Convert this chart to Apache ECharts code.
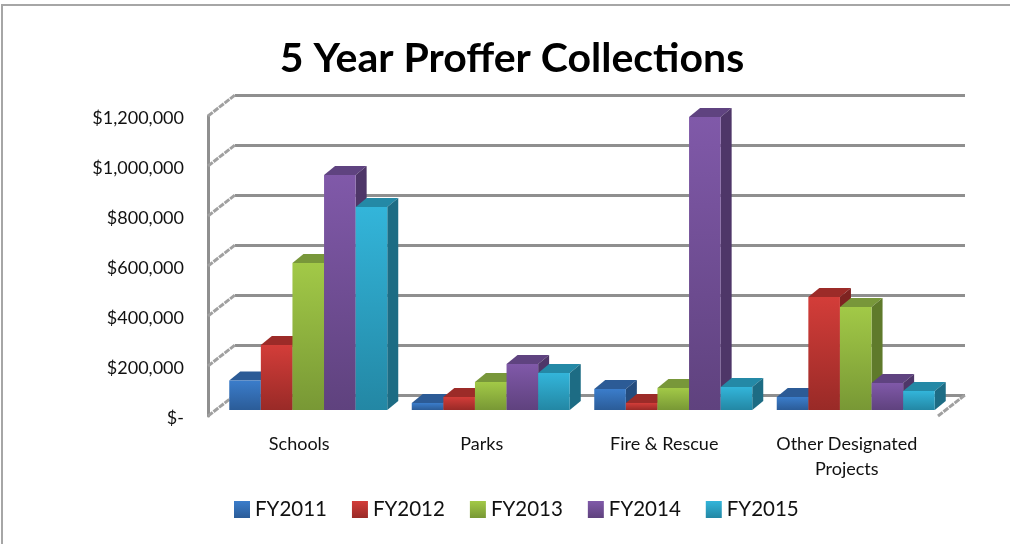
<!DOCTYPE html>
<html>
<head>
<meta charset="utf-8">
<style>
  html, body { margin: 0; padding: 0; background: #fff; }
  #chart { width: 1010px; height: 544px; }
</style>
<script src="https://cdn.jsdelivr.net/npm/echarts@6/dist/echarts.min.js"></script>
</head>
<body>
<div id="chart"></div>
<script>
const categories = ['Schools', 'Parks', 'Fire & Rescue', 'Other Designated\nProjects'];
const seriesNames = ['FY2011', 'FY2012', 'FY2013', 'FY2014', 'FY2015'];
const fy2011 = [118000, 28000, 84000, 52000];
const fy2012 = [260000, 52000, 28000, 452000];
const fy2013 = [588000, 112000, 88000, 412000];
const fy2014 = [940000, 184000, 1172000, 108000];
const fy2015 = [812000, 148000, 92000, 76000];
const seriesValues = [fy2011, fy2012, fy2013, fy2014, fy2015];
const tickValues = [0, 200000, 400000, 600000, 800000, 1000000, 1200000];

// front, top and side colours of each bar
const palette = [
  { hi: '#3b7dcb', lo: '#2b5c98', top: '#2c5b96', side: '#244c7e' },
  { hi: '#d33d39', lo: '#992a27', top: '#9c2b28', side: '#7e2321' },
  { hi: '#a2c947', lo: '#789835', top: '#78973a', side: '#5f7a2b' },
  { hi: '#8059a9', lo: '#5f427e', top: '#5f4380', side: '#4e3668' },
  { hi: '#33b5da', lo: '#2387a4', top: '#2489a6', side: '#1d6c84' }
];

const fontName = 'Lato';
const gridColor = '#8f8f8f';
const barShare = 31.6 / 182.5; // bar width / category band
const barDepth = [11, -9];
const wallDepth = [27, -21];

function gradient(c) {
  return new echarts.graphic.LinearGradient(0, 0, 0, 1, [
    { offset: 0, color: c.hi },
    { offset: 1, color: c.lo }
  ]);
}

function bar3d(idx) {
  return function (params, api) {
    const c = palette[idx];
    const center = api.coord([api.value(0), 0])[0];
    const w = api.size([1, 0])[0] * barShare;
    const x0 = center - 2.5 * w + idx * w;
    const x1 = x0 + w;
    const yTop = api.coord([api.value(0), api.value(1)])[1];
    const yBase = api.coord([api.value(0), 0])[1];
    const dx = barDepth[0], dy = barDepth[1];
    return {
      type: 'group',
      children: [
        { type: 'polygon', shape: { points: [[x0, yTop], [x1, yTop], [x1 + dx, yTop + dy], [x0 + dx, yTop + dy]] },
          style: { fill: c.top } },
        { type: 'polygon', shape: { points: [[x1, yTop], [x1 + dx, yTop + dy], [x1 + dx, yBase + dy], [x1, yBase]] },
          style: { fill: c.side } },
        { type: 'rect', shape: { x: x0, y: yTop, width: w, height: yBase - yTop },
          style: { fill: gradient(c) } }
      ]
    };
  };
}

function wallLine(side) {
  return function (params, api) {
    const sys = params.coordSys;
    const x = side === 'right' ? sys.x + sys.width : sys.x;
    const y = api.coord([0, api.value(1)])[1];
    return {
      type: 'line',
      shape: { x1: x, y1: y, x2: x + wallDepth[0], y2: y + wallDepth[1] },
      style: { stroke: '#a0a0a0', lineWidth: 3, lineDash: [6, 1] }
    };
  };
}

const barSeries = seriesNames.map((name, idx) => ({
  name: name,
  type: 'custom',
  xAxisIndex: 2,
  yAxisIndex: 2,
  z: 5,
  clip: false,
  encode: { x: 0, y: 1 },
  itemStyle: { color: gradient(palette[idx]) },
  renderItem: bar3d(idx),
  data: seriesValues[idx].map((v, i) => [i, v])
}));

const chart = echarts.init(document.getElementById('chart'));
chart.setOption({
  animation: false,
  backgroundColor: '#fff',
  textStyle: { fontFamily: fontName },
  title: {
    text: '5 Year Proffer Collections',
    left: 507, top: 33, textAlign: 'center',
    textStyle: { fontFamily: fontName, fontSize: 41, fontWeight: 'bold', color: '#000' }
  },
  legend: {
    data: seriesNames,
    left: 229, top: 494,
    icon: 'rect',
    itemWidth: 16, itemHeight: 17, itemGap: 25,
    textStyle: { fontFamily: fontName, fontSize: 20.5, color: '#111' }
  },
  graphic: [
    { type: 'line', shape: { x1: 1, y1: 5, x2: 1010, y2: 5 }, style: { stroke: '#a6a6a6', lineWidth: 2 } },
    { type: 'line', shape: { x1: 2, y1: 5, x2: 2, y2: 544 }, style: { stroke: '#a6a6a6', lineWidth: 2 } }
  ],
  grid: [
    { left: 235, top: 95, width: 730, height: 300 },   // back wall
    { left: 208, top: 116, width: 730, height: 300 },  // front edge, carries the labels
    { left: 217, top: 110, width: 730, height: 300 }   // plane of the bar fronts
  ],
  xAxis: [
    { gridIndex: 0, type: 'category', data: categories, show: false },
    { gridIndex: 1, type: 'category', data: categories,
      axisLine: { show: false }, axisTick: { show: false },
      axisLabel: { fontFamily: fontName, fontSize: 18, color: '#111', margin: 16, lineHeight: 25, interval: 0 } },
    { gridIndex: 2, type: 'category', data: categories, show: false }
  ],
  yAxis: [
    { gridIndex: 0, type: 'value', min: 0, max: 1200000, interval: 200000,
      axisLine: { show: false }, axisTick: { show: false }, axisLabel: { show: false },
      splitLine: { lineStyle: { color: gridColor, width: 3 } } },
    { gridIndex: 1, type: 'value', min: 0, max: 1200000, interval: 200000,
      axisLine: { show: true, lineStyle: { color: gridColor, width: 3 } },
      axisTick: { show: false }, splitLine: { show: false },
      axisLabel: {
        fontFamily: fontName, fontSize: 18, color: '#111', margin: 24,
        verticalAlign: 'top', lineHeight: 4,
        formatter: v => v === 0 ? '$-' : '$' + v.toLocaleString('en-US')
      } },
    { gridIndex: 2, type: 'value', min: 0, max: 1200000, interval: 200000, show: false }
  ],
  series: [
    { type: 'custom', xAxisIndex: 1, yAxisIndex: 1, z: 3, clip: false, silent: true,
      encode: { x: 0, y: 1 }, renderItem: wallLine('left'),
      data: tickValues.map(v => [0, v]) },
    { type: 'custom', xAxisIndex: 1, yAxisIndex: 1, z: 3, clip: false, silent: true,
      encode: { x: 0, y: 1 }, renderItem: wallLine('right'),
      data: [[0, 0]] }
  ].concat(barSeries)
});
</script>
</body>
</html>
